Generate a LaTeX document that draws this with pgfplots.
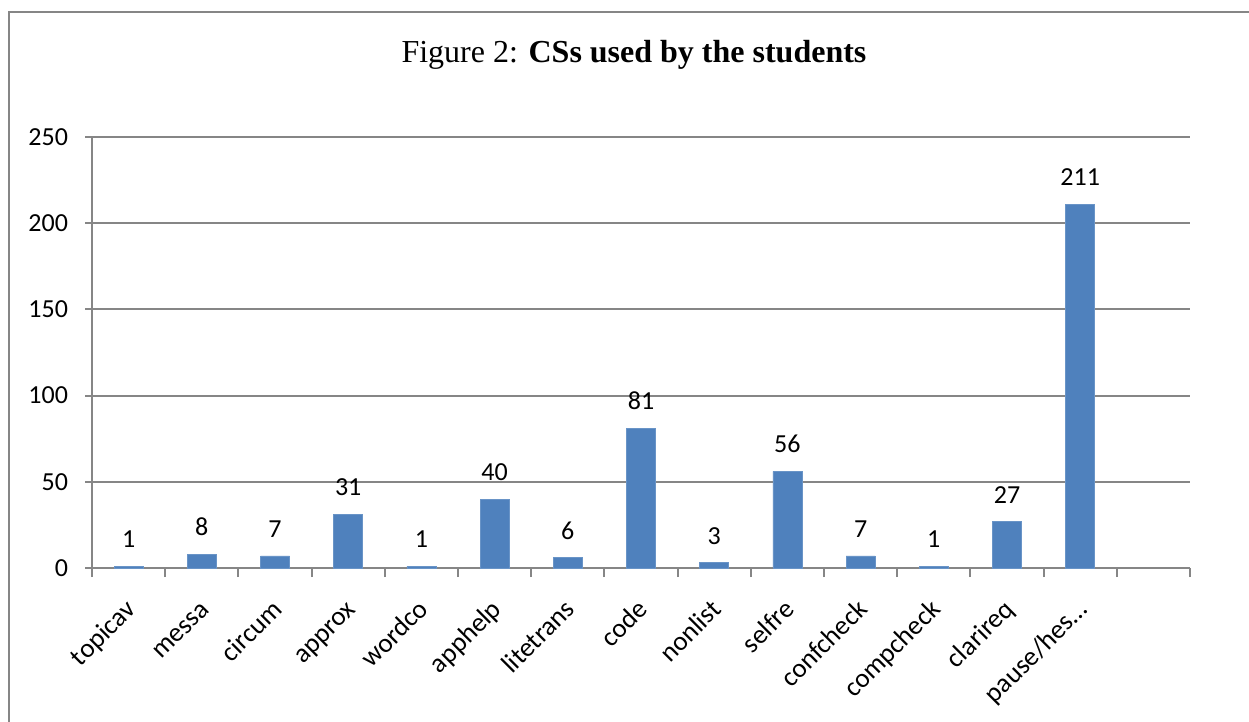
\documentclass[border=0pt]{standalone}
\usepackage{pgfplots}
\pgfplotsset{compat=1.18}
\usepackage{fontspec}
\setmainfont{Carlito}
\newfontfamily\timesfont{Liberation Serif}
\definecolor{barblue}{HTML}{4F81BD}
\definecolor{gridgray}{HTML}{868686}
\begin{document}
\begin{tikzpicture}
\path[use as bounding box] (0,0) rectangle (624.5pt,-361pt);
\draw[gridgray, line width=1.2pt] (4.5pt,-361pt) -- (4.5pt,-6pt) -- (624.5pt,-6pt);
\node[font=\timesfont\fontsize{16}{19}\selectfont] at (317pt,-27.5pt) {Figure 2: \textbf{CSs used by the students}};
\begin{axis}[
  at={(46pt,-284pt)}, anchor=south west,
  scale only axis, width=549pt, height=215.5pt,
  xmin=-0.5, xmax=14.5, ymin=0, ymax=250,
  enlargelimits=false, clip=false,
  ybar, bar width=14.5pt,
  axis x line=bottom, axis y line=left,
  axis line style={-, gridgray, line width=1pt},
  ytick={0,50,...,250},
  xtick={0,1,2,3,4,5,6,7,8,9,10,11,12,13},
  xticklabels={topicav,messa,circum,approx,wordco,apphelp,litetrans,code,nonlist,selfre,confcheck,compcheck,clarireq,{pause/hes\ldots}},
  minor xtick={-0.5,0.5,1.5,2.5,3.5,4.5,5.5,6.5,7.5,8.5,9.5,10.5,11.5,12.5,13.5,14.5},
  tick align=outside,
  major tick length=3.5pt, minor tick length=4.5pt,
  tick style={gridgray, line width=1pt},
  major x tick style={draw=none},
  ymajorgrids, grid style={gridgray, line width=1pt},
  /pgf/number format/assume math mode=true,
  yticklabel style={font=\fontsize{13}{15}\selectfont, xshift=-5pt},
  xticklabel style={font=\fontsize{13.5}{15}\selectfont, xshift=0.5pt, yshift=-14pt, rotate=45, anchor=north east, inner sep=0pt, text height=1.1ex, text depth=0pt},
  nodes near coords,
  every node near coord/.append style={font=\fontsize{13}{15}\selectfont, black, anchor=south, inner sep=0pt, yshift=9pt},
]
\addplot[fill=barblue, draw=barblue!85!white] coordinates {(0,1)(1,8)(2,7)(3,31)(4,1)(5,40)(6,6)(7,81)(8,3)(9,56)(10,7)(11,1)(12,27)(13,211)};
\end{axis}
\end{tikzpicture}
\end{document}
